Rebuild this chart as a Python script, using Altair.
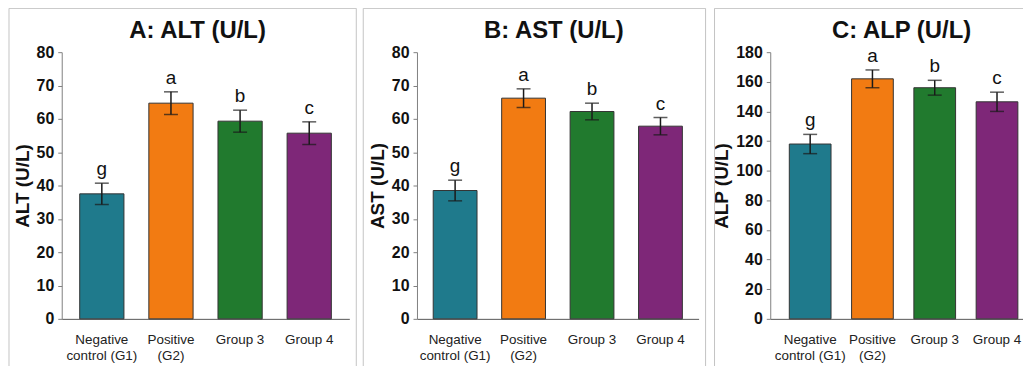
import altair as alt
import pandas as pd

# ---- data ----
groups = ["Negative\ncontrol (G1)", "Positive\n(G2)", "Group 3", "Group 4"]
colors = ["#1f7a8c", "#f27b12", "#217a2e", "#7e2778"]
letters = ["g", "a", "b", "c"]

alt_mean = [37.5, 64.7, 59.3, 55.7]
alt_err = [3.2, 3.4, 3.3, 3.4]

ast_mean = [38.5, 66.2, 62.2, 57.8]
ast_err = [3.1, 2.8, 2.5, 2.6]

alp_mean = [118.0, 162.0, 156.0, 146.5]
alp_err = [6.5, 6.0, 5.0, 6.5]

FONT = "Liberation Sans"
PLOT_H = 268


def panel(title, ytitle, means, errs, ymax, ystep, width, pi, po,
          frame_x, frame_x2, title_dx):
    df = pd.DataFrame({
        "group": groups,
        "mean": means,
        "lo": [m - e for m, e in zip(means, errs)],
        "hi": [m + e for m, e in zip(means, errs)],
        "letter": letters,
        "color": colors,
    })
    base = alt.Chart(df)
    xaxis = alt.Axis(
        labelExpr="split(datum.label, '\\n')",
        labelAngle=0, ticks=False, labelPadding=14,
        labelFontSize=13.5, labelFont=FONT, labelColor="#222222",
        labelLineHeight=15.5, domainColor="#555555", domainWidth=1,
    )
    xscale = alt.Scale(paddingInner=pi, paddingOuter=po)
    yaxis = alt.Axis(
        values=list(range(0, ymax + 1, ystep)), labelOverlap=False,
        tickSize=4, tickColor="#808080", domainColor="#808080",
        labelPadding=4, labelFontSize=16, labelFontWeight="bold",
        labelFont=FONT, labelColor="#111111",
        titleFontSize=19, titleFontWeight="bold", titleFont=FONT,
        titleColor="#111111", titlePadding=4, grid=False,
    )
    yscale = alt.Scale(domain=[0, ymax], nice=False, zero=True)

    def X():
        return alt.X("group:N", sort=groups, title=None, scale=xscale, axis=xaxis)

    def Y(field):
        return alt.Y(field, title=ytitle, scale=yscale, axis=yaxis)

    bars = base.mark_bar(stroke="#333333", strokeWidth=1).encode(
        x=X(), y=Y("mean:Q"), color=alt.Color("color:N", scale=None)
    )
    rule = base.mark_rule(color="#1a1a1a", strokeWidth=1.5).encode(
        x=X(), y=Y("lo:Q"), y2="hi:Q"
    )
    cap_hi = base.mark_tick(color="#1a1a1a", size=14, thickness=1.5).encode(
        x=X(), y=Y("hi:Q")
    )
    cap_lo = base.mark_tick(color="#1a1a1a", size=14, thickness=1.5).encode(
        x=X(), y=Y("lo:Q")
    )
    txt = base.mark_text(
        fontSize=19, baseline="alphabetic", dy=-8, font=FONT, color="#111111"
    ).encode(x=X(), y=Y("hi:Q"), text="letter:N")

    frame = alt.Chart(pd.DataFrame({"k": [0]})).mark_rect(
        fill="transparent", stroke="#c4c4c4", strokeWidth=1
    ).encode(
        x=alt.value(frame_x), x2=alt.value(frame_x2),
        y=alt.value(-44), y2=alt.value(330),
    )

    return alt.layer(frame, bars, rule, cap_hi, cap_lo, txt).properties(
        width=width,
        height=PLOT_H,
        title=alt.TitleParams(
            text=title, fontSize=24, fontWeight="bold", font=FONT,
            anchor="middle", frame="group", dx=title_dx, offset=-54,
            baseline="alphabetic", color="#111111",
        ),
    )


pa = panel("A: ALT (U/L)", "ALT (U/L)", alt_mean, alt_err, 80, 10,
           289, 0.36, 0.26, -53, 296, -8)
pb = panel("B: AST (U/L)", "AST (U/L)", ast_mean, ast_err, 80, 10,
           283, 0.36, 0.237, -54, 290, -4)
pc = panel("C: ALP (U/L)", "ALP (U/L)", alp_mean, alp_err, 180, 20,
           268, 0.33, 0.306, -56, 310, -2)

# the reference is cropped on the right and bottom: negative padding crops
chart = alt.hconcat(pa, pb, pc, spacing=5).properties(
    padding={"left": 0, "top": -1.5, "right": -57, "bottom": -15.5},
    background="white",
).configure_view(stroke="transparent")

chart.save("out.html", embed_options={"renderer": "svg", "actions": False})
